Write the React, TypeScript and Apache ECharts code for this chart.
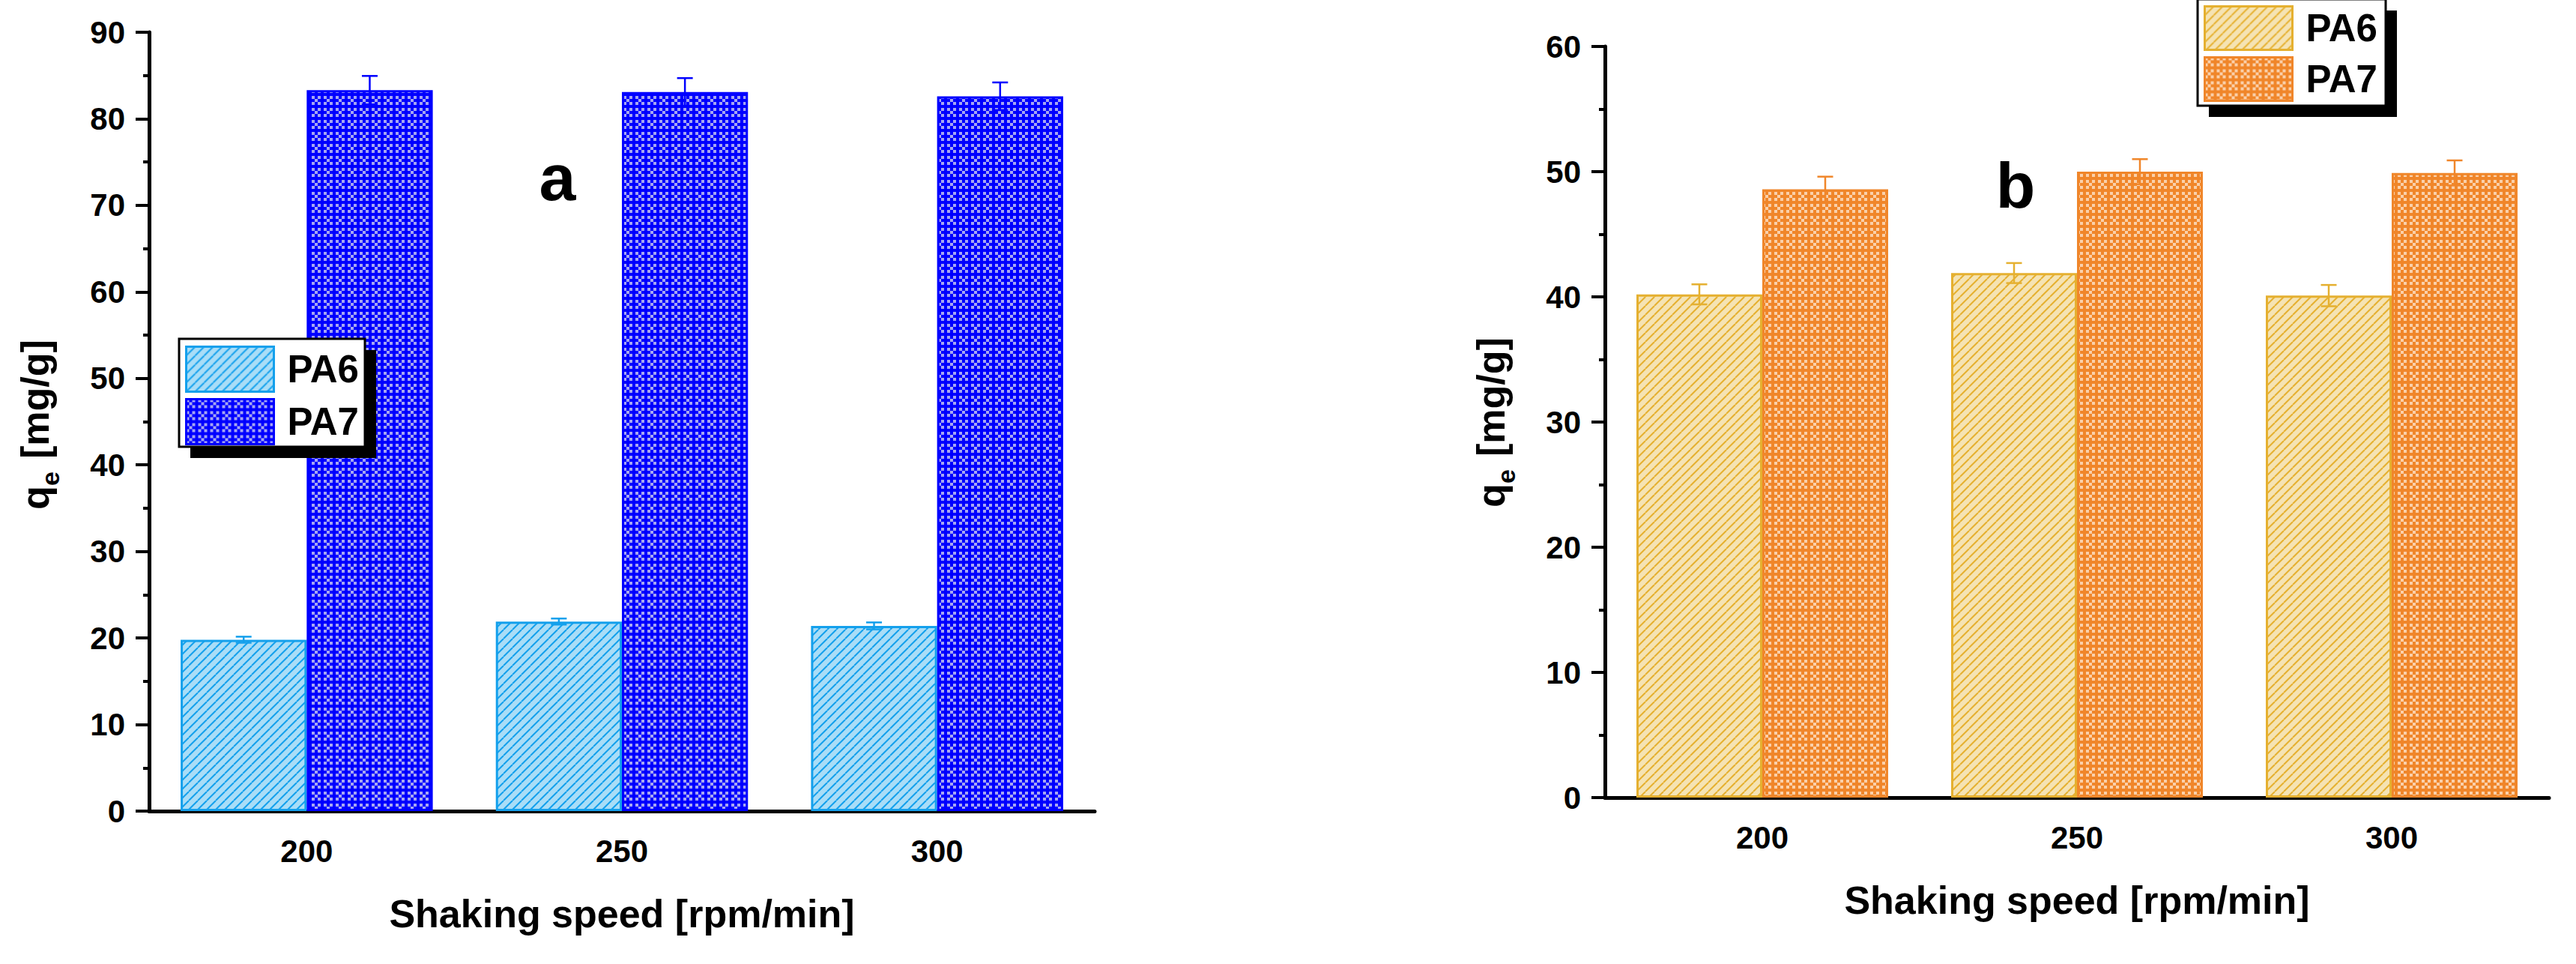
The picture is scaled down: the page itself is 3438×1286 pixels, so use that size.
import React, { useEffect, useRef } from "react";
import * as echarts from "echarts";

// ---------- data ----------
const categories = ["200", "250", "300"];
const seriesNames = ["PA6", "PA7"];
// panel a
const aPA6 = [19.8, 21.9, 21.4];
const aPA6Err = [0.35, 0.35, 0.4];
const aPA7 = [83.3, 83.1, 82.6];
const aPA7Err = [1.65, 1.6, 1.6];
// panel b
const bPA6 = [40.2, 41.9, 40.1];
const bPA6Err = [0.8, 0.8, 0.85];
const bPA7 = [48.6, 50.0, 49.9];
const bPA7Err = [1.0, 1.0, 1.0];
// axes
const aYMax = 90;
const bYMax = 60;
const yInterval = 10;
const xTitle = "Shaking speed [rpm/min]";
const panelLabels = ["a", "b"];

const FONT = "'Liberation Sans', Arial, Helvetica, sans-serif";

function hatch(bg: string, fg: string): string {
  const s = 12;
  const c = document.createElement("canvas");
  c.width = s;
  c.height = s;
  const g = c.getContext("2d")!;
  g.fillStyle = bg;
  g.fillRect(0, 0, s, s);
  g.strokeStyle = fg;
  g.lineWidth = 2;
  for (const k of [-s, 0, s]) {
    g.beginPath();
    g.moveTo(k, s);
    g.lineTo(k + s, 0);
    g.stroke();
  }
  return c.toDataURL();
}

const CELL = 4;
function checker(base: string, light: string): string {
  const grid = [
    [1, 0, 1, 0],
    [0, 1, 0, 0],
    [1, 0, 1, 0],
    [0, 0, 0, 0],
  ];
  const s = CELL * 4;
  const c = document.createElement("canvas");
  c.width = s;
  c.height = s;
  const g = c.getContext("2d")!;
  g.fillStyle = base;
  g.fillRect(0, 0, s, s);
  g.fillStyle = light;
  for (let r = 0; r < 4; r++)
    for (let q = 0; q < 4; q++)
      if (grid[r][q]) g.fillRect(q * CELL, r * CELL, CELL, CELL);
  return c.toDataURL();
}

function pat(url: string, size: number) {
  return { image: url, repeat: "repeat", imageWidth: size, imageHeight: size };
}

export default function App() {
  const ref = useRef<HTMLDivElement>(null);
  useEffect(() => {
    if (!ref.current) return;
    const chart = echarts.init(ref.current, null, { renderer: "svg" });

    const colA6 = "#14A0EC";
    const colA7 = "#0000FF";
    const colB6 = "#E5B030";
    const colB7 = "#F0862A";
    const fillA6 = pat(hatch("#A9DDF7", colA6), 12);
    const fillA7 = pat(checker(colA7, "#A6A6F2"), CELL * 4);
    const fillB6 = pat(hatch("#F5E3B3", colB6), 12);
    const fillB7 = pat(checker(colB7, "#FAD0AA"), CELL * 4);

    const grids = [
      { left: 199, top: 43, width: 1262, height: 1039 },
      { left: 2142, top: 62, width: 1260, height: 1002 },
    ];

    const xAxes: any[] = [];
    const yAxes: any[] = [];
    [0, 1].forEach((gi) => {
      xAxes.push({
        type: "category",
        gridIndex: gi,
        data: categories,
        position: "bottom",
        axisLine: { lineStyle: { color: "#000", width: 5 } },
        axisTick: { alignWithLabel: true, length: 20, lineStyle: { color: "#000", width: 4 } },
        axisLabel: { fontSize: 42, fontWeight: "bold", color: "#000", fontFamily: FONT, margin: 32 },
        name: xTitle,
        nameLocation: "middle",
        nameGap: 111,
        nameTextStyle: { fontSize: 52, fontWeight: "bold", color: "#000", fontFamily: FONT },
        splitLine: { show: false },
      });
      xAxes.push({
        type: "category",
        gridIndex: gi,
        data: categories,
        position: "bottom",
        axisLine: { show: false },
        axisTick: { length: 10, lineStyle: { color: "#000", width: 4 } },
        axisLabel: { show: false },
        splitLine: { show: false },
      });
      yAxes.push({
        type: "value",
        gridIndex: gi,
        min: 0,
        max: gi === 0 ? aYMax : bYMax,
        interval: yInterval,
        axisLine: { show: true, lineStyle: { color: "#000", width: 5 } },
        axisTick: { show: true, length: 18, lineStyle: { color: "#000", width: 4 } },
        minorTick: { show: true, splitNumber: 2, length: 8, lineStyle: { color: "#000", width: 4 } },
        axisLabel: { fontSize: 42, fontWeight: "bold", color: "#000", fontFamily: FONT, margin: 32 },
        splitLine: { show: false },
      });
    });

    const bar = (name: string, gi: number, data: number[], fill: any, border: string) => ({
      type: "bar",
      name,
      xAxisIndex: gi * 2,
      yAxisIndex: gi,
      data,
      barGap: "0%",
      barCategoryGap: "20%",
      itemStyle: { color: fill, borderColor: border, borderWidth: 3 },
      z: 2,
    });

    const err = (name: string, gi: number, vals: number[], errs: number[], color: string, side: number) => ({
      type: "custom",
      name,
      xAxisIndex: gi * 2,
      yAxisIndex: gi,
      silent: true,
      z: 6,
      data: vals.map((v, i) => [i, v, errs[i]]),
      encode: { x: 0, y: 1 },
      renderItem: (params: any, api: any) => {
        const i = api.value(0);
        const v = api.value(1);
        const e = api.value(2);
        const c = api.coord([i, v]);
        const band = api.size([1, 0])[0];
        const x = c[0] + side * 0.2 * band;
        const yT = api.coord([i, v + e])[1];
        const yB = api.coord([i, v - e])[1];
        const st = { stroke: color, lineWidth: 2.5 };
        const hw = 10.5;
        return {
          type: "group",
          children: [
            { type: "line", shape: { x1: x, y1: yT, x2: x, y2: yB }, style: st },
            { type: "line", shape: { x1: x - hw, y1: yT, x2: x + hw, y2: yT }, style: st },
            { type: "line", shape: { x1: x - hw, y1: yB, x2: x + hw, y2: yB }, style: st },
          ],
        };
      },
    });

    const legend = (left: number, top: number, ih: number, items: any[]) => ({
      orient: "vertical",
      left,
      top,
      padding: 0,
      itemGap: 7,
      itemWidth: 117,
      itemHeight: ih,
      icon: "rect",
      selectedMode: false,
      z: 10,
      textStyle: { fontSize: 51, fontWeight: "bold", color: "#000", fontFamily: FONT, padding: [0, 0, 0, 13] },
      data: items,
    });

    const yTitle = (x: number, y: number) => ({
      type: "group",
      x,
      y,
      rotation: Math.PI / 2,
      children: [
        { type: "text", x: 0, y: 0, style: { text: "q", fontSize: 52, fontWeight: "bold", fontFamily: FONT, fill: "#000", align: "left", verticalAlign: "middle" } },
        { type: "text", x: 32, y: 20, style: { text: "e", fontSize: 34, fontWeight: "bold", fontFamily: FONT, fill: "#000", align: "left", verticalAlign: "middle" } },
        { type: "text", x: 68, y: 0, style: { text: "[mg/g]", fontSize: 52, fontWeight: "bold", fontFamily: FONT, fill: "#000", align: "left", verticalAlign: "middle" } },
      ],
    });

    const boxA = { x: 239, y: 452, w: 248, h: 144 };
    const boxB = { x: 2933, y: -1, w: 251, h: 142 };
    const boxEls = (b: any) => [
      { type: "rect", z: 5, shape: { x: b.x + 15, y: b.y + 15, width: b.w, height: b.h }, style: { fill: "#000" } },
      { type: "rect", z: 5, shape: { x: b.x, y: b.y, width: b.w, height: b.h }, style: { fill: "#fff", stroke: "#000", lineWidth: 3 } },
    ];

    chart.setOption({
      animation: false,
      backgroundColor: "#fff",
      grid: grids,
      xAxis: xAxes,
      yAxis: yAxes,
      legend: [
        legend(boxA.x + 8, boxA.y + 9, 60, [
          { name: seriesNames[0], itemStyle: { color: fillA6, borderColor: colA6, borderWidth: 3 } },
          { name: seriesNames[1], itemStyle: { color: fillA7, borderColor: colA7, borderWidth: 3 } },
        ]),
        legend(boxB.x + 8, boxB.y + 8, 58, [
          { name: seriesNames[0], itemStyle: { color: fillB6, borderColor: colB6, borderWidth: 3 } },
          { name: seriesNames[1], itemStyle: { color: fillB7, borderColor: colB7, borderWidth: 3 } },
        ]),
      ],
      graphic: [
        ...boxEls(boxA),
        ...boxEls(boxB),
        yTitle(47, 680),
        yTitle(1990, 677),
        { type: "text", x: 744, y: 236, z: 5, style: { text: panelLabels[0], fontSize: 88, fontWeight: "bold", fontFamily: FONT, fill: "#000", align: "center", verticalAlign: "middle" } },
        { type: "text", x: 2690, y: 247, z: 5, style: { text: panelLabels[1], fontSize: 86, fontWeight: "bold", fontFamily: FONT, fill: "#000", align: "center", verticalAlign: "middle" } },
      ],
      series: [
        bar(seriesNames[0], 0, aPA6, fillA6, colA6),
        bar(seriesNames[1], 0, aPA7, fillA7, colA7),
        err("PA6 error a", 0, aPA6, aPA6Err, colA6, -1),
        err("PA7 error a", 0, aPA7, aPA7Err, colA7, 1),
        bar(seriesNames[0], 1, bPA6, fillB6, colB6),
        bar(seriesNames[1], 1, bPA7, fillB7, colB7),
        err("PA6 error b", 1, bPA6, bPA6Err, colB6, -1),
        err("PA7 error b", 1, bPA7, bPA7Err, colB7, 1),
      ],
    });
    return () => chart.dispose();
  }, []);
  return (
    <div
      ref={ref}
      style={{ position: "absolute", left: 0, top: 0, width: 3438, height: 1286, background: "#fff" }}
    />
  );
}
